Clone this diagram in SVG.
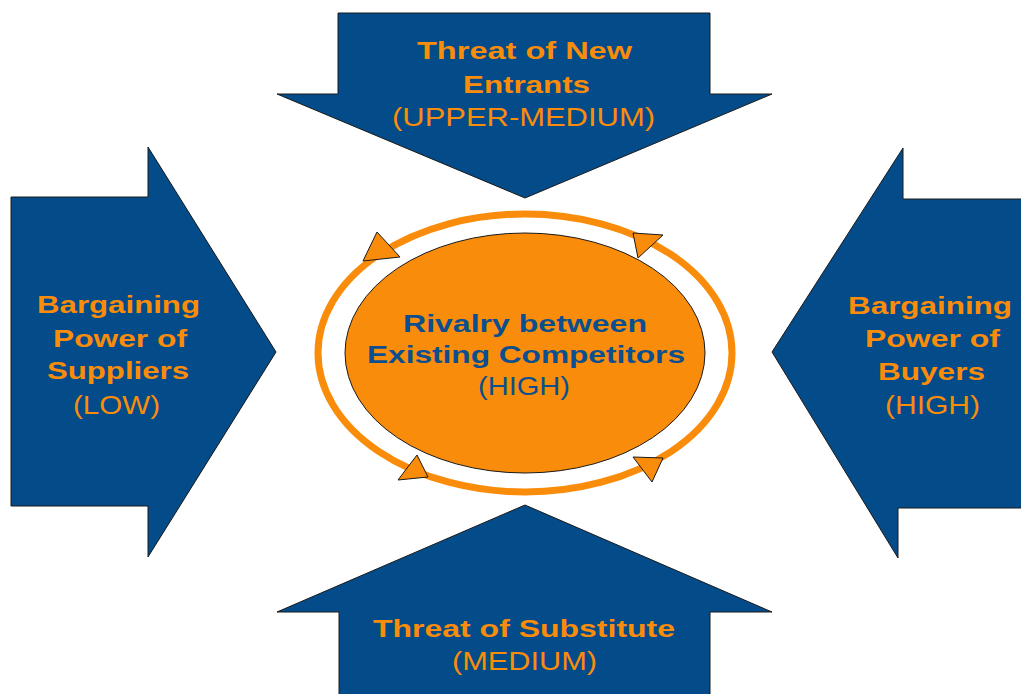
<svg xmlns="http://www.w3.org/2000/svg" width="1021" height="694" viewBox="0 0 1021 694">
<defs>
<style>
.arrow{fill:#034B89;stroke:#1a1a1a;stroke-width:1}
.t{font-family:"Liberation Sans",Arial,sans-serif;font-size:24px;text-anchor:start}
.b{font-weight:bold;font-size:24.5px}
.r{font-size:26.5px}
.o{fill:#F98C0A}
.bl{fill:#0B4F8F}
.ring{fill:none;stroke:#F98C0A;stroke-width:7}
.tri{fill:#F98C0A;stroke:#1a1a1a;stroke-width:1;stroke-linejoin:miter}
</style>
</defs>
<rect width="1021" height="694" fill="#ffffff"/>
<g id="threat-new-entrants">
<polygon class="arrow" points="338,13 710,13 710,94 772,94 525,198 277,94 338,94"/>
<text class="t b o" x="417" y="59" textLength="215" lengthAdjust="spacingAndGlyphs">Threat of New</text>
<text class="t b o" x="463" y="93" textLength="127" lengthAdjust="spacingAndGlyphs">Entrants</text>
<text class="t r o" x="392" y="126" textLength="263" lengthAdjust="spacingAndGlyphs">(UPPER-MEDIUM)</text>
</g>
<g id="bargaining-suppliers">
<polygon class="arrow" points="11,197 148,197 148,147 276,352 148,557 148,506 11,506"/>
<text class="t b o" x="37" y="313" textLength="163" lengthAdjust="spacingAndGlyphs">Bargaining</text>
<text class="t b o" x="53" y="347" textLength="134" lengthAdjust="spacingAndGlyphs">Power of</text>
<text class="t b o" x="47" y="379" textLength="142" lengthAdjust="spacingAndGlyphs">Suppliers</text>
<text class="t r o" x="73" y="414" textLength="87" lengthAdjust="spacingAndGlyphs">(LOW)</text>
</g>
<g id="bargaining-buyers">
<polygon class="arrow" points="1025,199 903,199 903,148 772,352 898,558 898,508 1025,508"/>
<text class="t b o" x="848" y="314" textLength="164" lengthAdjust="spacingAndGlyphs">Bargaining</text>
<text class="t b o" x="865" y="347" textLength="135" lengthAdjust="spacingAndGlyphs">Power of</text>
<text class="t b o" x="878" y="380" textLength="107" lengthAdjust="spacingAndGlyphs">Buyers</text>
<text class="t r o" x="885" y="414" textLength="95" lengthAdjust="spacingAndGlyphs">(HIGH)</text>
</g>
<g id="threat-substitute">
<polygon class="arrow" points="525,505 772,612 710,612 710,700 339,700 339,612 277,612"/>
<text class="t b o" x="373" y="637" textLength="302" lengthAdjust="spacingAndGlyphs">Threat of Substitute</text>
<text class="t r o" x="452" y="670" textLength="145" lengthAdjust="spacingAndGlyphs">(MEDIUM)</text>
</g>
<g id="connectors">
<ellipse class="ring" cx="525" cy="353" rx="207" ry="139"/>
<polygon class="tri" points="377,232 400,257 363,261"/>
<polygon class="tri" points="633,233 663,235 638,258"/>
<polygon class="tri" points="417,455 428,477 398,480"/>
<polygon class="tri" points="633,457 663,458 652,482"/>
</g>
<g id="rivalry">
<ellipse cx="525" cy="353" rx="180" ry="120" fill="#F98C0A" stroke="#1a1a1a" stroke-width="1"/>
<text class="t b bl" x="403" y="332" textLength="244" lengthAdjust="spacingAndGlyphs">Rivalry between</text>
<text class="t b bl" x="367" y="363" textLength="318" lengthAdjust="spacingAndGlyphs">Existing Competitors</text>
<text class="t r bl" x="478" y="395" textLength="92" lengthAdjust="spacingAndGlyphs">(HIGH)</text>
</g>
</svg>
